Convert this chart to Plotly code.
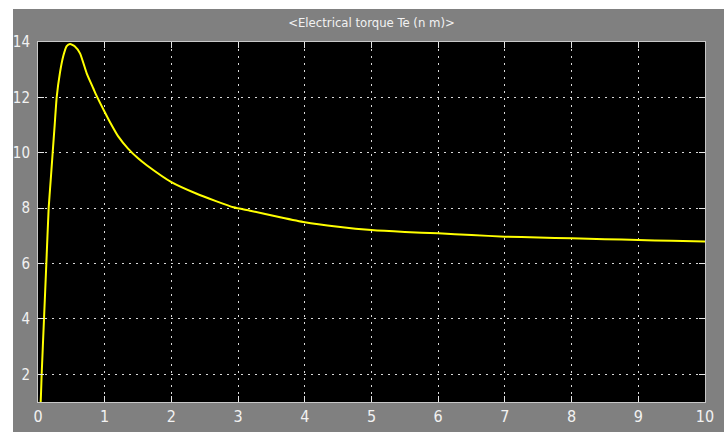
import plotly.graph_objects as go

# Electrical torque response of the machine (time in s, torque in N·m)
time_s = [0, 0.02, 0.04, 0.055, 0.09, 0.125, 0.16, 0.19, 0.22, 0.25, 0.28, 0.33,
          0.38, 0.43, 0.48, 0.55, 0.63, 0.73, 0.83, 0.87, 1.0, 1.08, 1.2, 1.35,
          1.5, 1.63, 2.0, 2.38, 2.93, 3.18, 3.63, 4.0, 4.5, 5.0, 5.5, 6.0, 6.5, 7.0,
          7.5, 8.0, 8.5, 9.0, 9.5, 10.0]
torque = [0, 0.5, 1.0, 2.0, 4.0, 6.0, 8.0, 9.0, 10.0, 11.0, 12.0, 12.9,
          13.5, 13.85, 13.93, 13.85, 13.59, 12.87, 12.32, 12.1, 11.47, 11.1, 10.6, 10.15,
          9.8, 9.55, 8.94, 8.52, 8.03, 7.91, 7.67, 7.49, 7.33, 7.21, 7.14, 7.09, 7.03, 6.97,
          6.94, 6.91, 6.88, 6.85, 6.82, 6.80]

x_ticks = [0, 1, 2, 3, 4, 5, 6, 7, 8, 9, 10]
y_ticks = [2, 4, 6, 8, 10, 12, 14]
title_text = "<Electrical torque Te (n m)>"

FONT = "Liberation Sans Narrow, DejaVu Sans Condensed, Liberation Sans, Arial, sans-serif"
FRAME_GREY = "#808080"
TEXT = "#f2f2f2"

# plot-area size in pixels, used to place the grey scope window in paper units
PW, PH = 667, 360
L, T, B = 38, 42, 30

fig = go.Figure()
fig.add_trace(go.Scatter(
    x=time_s, y=torque, mode="lines",
    line=dict(color="#ffff00", width=2, shape="spline", smoothing=0.5),
    hoverinfo="skip", showlegend=False,
))

axis_common = dict(
    showline=True, linecolor="#c8c8c8", linewidth=1, mirror="ticks",
    ticks="inside", ticklen=6, tickwidth=1, tickcolor="#e6e6e6",
    showgrid=True, gridcolor="#d9d9d9", gridwidth=1, griddash="2px,5px",
    zeroline=False, fixedrange=True, automargin=False,
)

fig.update_xaxes(range=[0, 10], tickvals=x_ticks, ticktext=[str(v) for v in x_ticks],
                 tickfont=dict(family=FONT, size=16, color=TEXT), ticklabelstandoff=0,
                 **axis_common)
fig.update_yaxes(range=[1, 14], tickvals=y_ticks, ticktext=[str(v) for v in y_ticks],
                 tickfont=dict(family=FONT, size=15, color=TEXT), ticklabelstandoff=4,
                 **axis_common)

fig.update_layout(
    width=724, height=432,
    margin=dict(l=L, r=19, t=T, b=B, pad=0, autoexpand=False),
    paper_bgcolor="#ffffff",
    plot_bgcolor="#000000",
    title=dict(text=title_text, x=0.5, xref="paper", xanchor="center",
               y=1 - 22 / 432, yref="container", yanchor="middle",
               font=dict(family=FONT, size=13, color=TEXT)),
    shapes=[
        # grey scope window behind the axes
        dict(type="rect", xref="paper", yref="paper",
             x0=(13 - L) / PW, x1=(724 - L) / PW,
             y0=-B / PH, y1=1 + (T - 9) / PH,
             fillcolor=FRAME_GREY, line=dict(width=0), layer="below"),
        # black plotting area on top of the grey window
        dict(type="rect", xref="paper", yref="paper", x0=0, x1=1, y0=0, y1=1,
             fillcolor="#000000", line=dict(width=0), layer="below"),
    ],
)

fig.write_html("out.html")
